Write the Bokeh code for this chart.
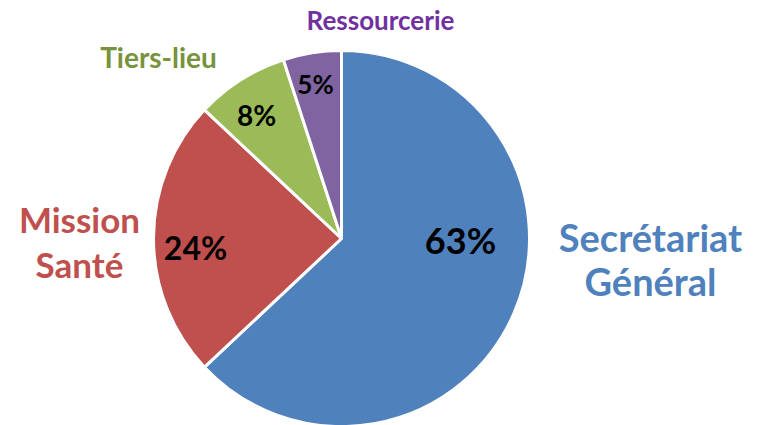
import math
from bokeh.plotting import figure
from bokeh.models import Range1d, ColumnDataSource
from bokeh.core.properties import value
from bokeh.embed import file_html
from bokeh.resources import INLINE

# ---- data ----
categories = ["Secrétariat Général", "Mission Santé", "Tiers-lieu", "Ressourcerie"]
shares = [63, 24, 8, 5]
pct_labels = ["63%", "24%", "8%", "5%"]

# ---- style / layout ----
slice_colors = ["#4F81BD", "#C0504D", "#9BBB59", "#8064A2"]
label_colors = ["#4F81BD", "#C0504D", "#77933C", "#7030A0"]
FONT = "Lato"

W, H = 762, 425
cx, cy, R = 341, 425 - 238, 188   # plot coordinates (1 unit = 1 px, y up)
DY = 9  # baseline correction

def sy(screen_y):
    return H - (screen_y - DY)

def sx(screen_x):
    return screen_x

p = figure(width=W, height=H, output_backend="svg", toolbar_location=None,
           x_range=Range1d(0, W), y_range=Range1d(0, H), min_border=0,
           outline_line_color=None, background_fill_color="white")
p.axis.visible = False
p.grid.visible = False

total = float(sum(shares))
starts, ends = [], []
cum = 0.0
for v in shares:
    a = cum / total
    b = (cum + v) / total
    starts.append(math.pi / 2 - 2 * math.pi * b)
    ends.append(math.pi / 2 - 2 * math.pi * a)
    cum += v

src = ColumnDataSource(dict(start=starts, end=ends, color=slice_colors,
                            x=[cx] * len(shares), y=[cy] * len(shares)))
p.wedge(x="x", y="y", radius=R, start_angle="start", end_angle="end",
        direction="anticlock", fill_color="color", line_color="white",
        line_width=3, source=src)

# percentage labels (screen positions: x center, baseline)
pct_pos = [(460, 248), (195, 256), (256, 123), (315, 92)]
pct_sizes = ["36px", "32px", "28px", "26px"]
for lab, (x, y), fs in zip(pct_labels, pct_pos, pct_sizes):
    p.text(x=[sx(x)], y=[sy(y)], text=[lab], text_font=value(FONT),
           text_font_style="bold", text_font_size=fs, text_color="black",
           text_align="center", text_baseline="alphabetic")

# category labels: list of line baselines
cat_pos = [
    (650, [245, 289]),
    (79, [227, 272]),
    (158, [65]),
    (380, [28]),
]
cat_sizes = ["38px", "35px", "28px", "26px"]
for cat, (x, ys), fs, col in zip(categories, cat_pos, cat_sizes, label_colors):
    lines = cat.split(" ") if len(ys) > 1 else [cat]
    for line, y in zip(lines, ys):
        p.text(x=[sx(x)], y=[sy(y)], text=[line], text_font=value(FONT),
               text_font_style="bold", text_font_size=fs, text_color=col,
               text_align="center", text_baseline="alphabetic")

open("out.html", "w").write(file_html(p, INLINE))
